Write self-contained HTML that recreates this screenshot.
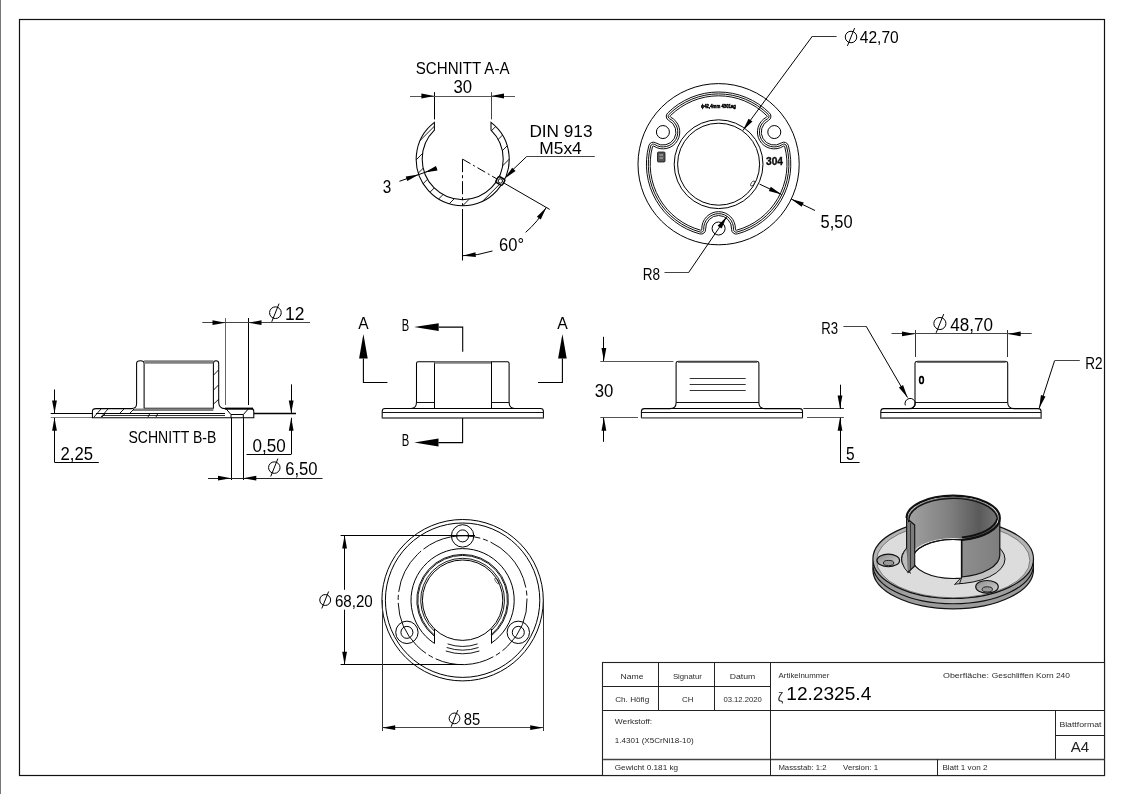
<!DOCTYPE html>
<html><head><meta charset="utf-8"><style>
html,body{margin:0;padding:0;background:#fff;overflow:hidden}
svg{display:block;will-change:transform}
text{font-family:"Liberation Sans",sans-serif}
</style></head><body>
<svg width="1123" height="794" viewBox="0 0 1123 794">
<rect width="1123" height="794" fill="#fff"/>
<line x1="0.5" y1="0" x2="0.5" y2="794" stroke="#777" stroke-width="1" />
<rect x="19.5" y="19.5" width="1085" height="756" fill="none" stroke="#111" stroke-width="1.2"/>
<clipPath id="ringA"><path d="M491,122.3 A46.5,46.5 0 1 1 434.4,122.3 L434.4,130.23 A40.5,40.5 0 1 0 491,130.23 Z"/></clipPath>
<path d="M340.6,220 L460.6,100 M356,220 L476,100 M371.4,220 L491.4,100 M386.8,220 L506.8,100 M402.2,220 L522.2,100 M417.6,220 L537.6,100 M433,220 L553,100 M448.4,220 L568.4,100 M463.8,220 L583.8,100 M479.2,220 L599.2,100 M494.6,220 L614.6,100 M510,220 L630,100" stroke="#000" stroke-width="0.9" clip-path="url(#ringA)"/>
<path d="M491,122.3 A46.5,46.5 0 1 1 434.4,122.3 L434.4,130.23 A40.5,40.5 0 1 0 491,130.23 Z" stroke="#000" stroke-width="1.05" fill="none" />
<line x1="434.5" y1="92.2" x2="434.5" y2="119.4" stroke="#000" stroke-width="1" />
<line x1="491.5" y1="92.2" x2="491.5" y2="119.4" stroke="#444" stroke-width="1" />
<line x1="410" y1="96.5" x2="515" y2="96.5" stroke="#555" stroke-width="1" />
<polygon points="434.4,96 421.4,98.4 421.4,93.6" fill="#000"/>
<polygon points="491,96 504,93.6 504,98.4" fill="#000"/>
<text x="415.8" y="73.7" font-size="16.8" fill="#000" text-anchor="start" textLength="93.7" lengthAdjust="spacingAndGlyphs" >SCHNITT A-A</text>
<text x="453.4" y="93.4" font-size="17.5" fill="#000" text-anchor="start" textLength="18.6" lengthAdjust="spacingAndGlyphs" >30</text>
<line x1="462.5" y1="159.2" x2="462.5" y2="205.5" stroke="#000" stroke-width="1" stroke-dasharray="13,3,3,3"/>
<line x1="462.5" y1="209" x2="462.5" y2="260.5" stroke="#000" stroke-width="1" />
<line x1="462.7" y1="159.2" x2="500.37" y2="180.95" stroke="#000" stroke-width="1" stroke-dasharray="9,3,2,3"/>
<line x1="500.37" y1="180.95" x2="549.74" y2="209.45" stroke="#000" stroke-width="1" />
<path d="M492.52,250.98 A96.5,96.5 0 0 1 462.7,255.7" stroke="#000" stroke-width="1" fill="none" />
<path d="M546.27,207.45 A96.5,96.5 0 0 1 525.63,232.36" stroke="#000" stroke-width="1" fill="none" />
<polygon points="462.7,255.7 475.44,252.18 475.86,256.96" fill="#000"/>
<polygon points="546.27,207.45 540.78,219.48 536.85,216.72" fill="#000"/>
<text x="499" y="251.4" font-size="17.5" fill="#000" text-anchor="start" textLength="25" lengthAdjust="spacingAndGlyphs" >60°</text>
<line x1="399.45" y1="181.29" x2="436.74" y2="168.27" stroke="#000" stroke-width="1" />
<polygon points="418.8,174.53 407.32,181.08 405.74,176.55" fill="#000"/>
<polygon points="424.46,172.55 435.95,166 437.53,170.53" fill="#000"/>
<text x="382.8" y="193.1" font-size="17.5" fill="#000" text-anchor="start" textLength="8.5" lengthAdjust="spacingAndGlyphs" >3</text>
<g transform="translate(500.37,180.95) rotate(30)"><rect x="-3.8" y="-3.4" width="7.6" height="6.8" rx="1.8" fill="#fff" stroke="#000" stroke-width="1.5"/><circle r="2.1" fill="none" stroke="#222" stroke-width="1"/></g>
<line x1="526.5" y1="156.5" x2="594.8" y2="156.5" stroke="#444" stroke-width="1" />
<line x1="526.5" y1="156.7" x2="512" y2="170.5" stroke="#000" stroke-width="1" />
<polygon points="504.7,178.6 512.17,167.69 515.57,171.08" fill="#000"/>
<text x="529.4" y="136.7" font-size="16.8" fill="#000" text-anchor="start" textLength="63.1" lengthAdjust="spacingAndGlyphs" >DIN 913</text>
<text x="539.3" y="153.7" font-size="16.8" fill="#000" text-anchor="start" textLength="42.5" lengthAdjust="spacingAndGlyphs" >M5x4</text>
<circle cx="718.6" cy="164.2" r="80.6" stroke="#000" stroke-width="1" fill="none" />
<circle cx="718.6" cy="164.2" r="44.4" stroke="#000" stroke-width="1" fill="none" />
<circle cx="718.6" cy="164.2" r="41" stroke="#000" stroke-width="1" fill="none" />
<circle cx="662.91" cy="132.05" r="6.5" stroke="#000" stroke-width="1" fill="none" />
<circle cx="774.29" cy="132.05" r="6.5" stroke="#000" stroke-width="1" fill="none" />
<circle cx="718.6" cy="228.5" r="6.5" stroke="#000" stroke-width="1" fill="none" />
<path d="M699.83,233.92 A72.2,72.2 0 0 1 648.84,145.6 A4.6,4.6 0 0 1 655.8,142.93 A13,13 0 1 0 668.78,120.45 A4.6,4.6 0 0 1 667.61,113.09 A72.2,72.2 0 0 1 769.59,113.09 A4.6,4.6 0 0 1 768.42,120.45 A13,13 0 1 0 781.4,142.93 A4.6,4.6 0 0 1 788.36,145.6 A72.2,72.2 0 0 1 737.37,233.92 A4.6,4.6 0 0 1 731.58,229.22 A13,13 0 1 0 705.62,229.22 A4.6,4.6 0 0 1 699.83,233.92 Z" stroke="#000" stroke-width="0.95" fill="none" />
<path d="M700.33,232.08 A70.3,70.3 0 0 1 650.67,146.08 A2.7,2.7 0 0 1 654.76,144.52 A14.9,14.9 0 1 0 669.64,118.75 A2.7,2.7 0 0 1 668.95,114.43 A70.3,70.3 0 0 1 768.25,114.43 A2.7,2.7 0 0 1 767.56,118.75 A14.9,14.9 0 1 0 782.44,144.52 A2.7,2.7 0 0 1 786.53,146.08 A70.3,70.3 0 0 1 736.87,232.08 A2.7,2.7 0 0 1 733.48,229.33 A14.9,14.9 0 1 0 703.72,229.33 A2.7,2.7 0 0 1 700.33,232.08 Z" stroke="#000" stroke-width="0.95" fill="none" />
<path d="M700.68,230.21 A68.4,68.4 0 0 1 652.47,146.71 A0.9,0.9 0 0 1 653.83,146.18 A16.8,16.8 0 1 0 670.61,117.12 A0.9,0.9 0 0 1 670.39,115.68 A68.4,68.4 0 0 1 766.81,115.68 A0.9,0.9 0 0 1 766.59,117.12 A16.8,16.8 0 1 0 783.37,146.18 A0.9,0.9 0 0 1 784.73,146.71 A68.4,68.4 0 0 1 736.52,230.21 A0.9,0.9 0 0 1 735.38,229.3 A16.8,16.8 0 1 0 701.82,229.3 A0.9,0.9 0 0 1 700.68,230.21 Z" stroke="#000" stroke-width="0.95" fill="none" />
<text x="766" y="164.6" font-size="10" fill="#000" text-anchor="start" textLength="17" lengthAdjust="spacingAndGlyphs" font-weight="bold" fill="#555" stroke="#222" stroke-width="0.4">304</text>
<rect x="657.5" y="152" width="7.5" height="10" rx="1" fill="#555" stroke="#111" stroke-width="0.8"/>
<path d="M659.5,155 h3.5 M659.5,158 h3.5" stroke="#ddd" stroke-width="0.8"/>
<text x="701" y="108.2" font-size="5.6" fill="#000" text-anchor="start" textLength="35" lengthAdjust="spacingAndGlyphs" font-weight="bold" stroke="#000" stroke-width="0.5">ϕ42,4mm 4301ag</text>
<ellipse cx="752.6" cy="183.5" rx="1.4" ry="3" transform="rotate(35 752.6 183.5)" fill="none" stroke="#333" stroke-width="0.8"/>
<line x1="812.5" y1="36.5" x2="836.6" y2="36.5" stroke="#333" stroke-width="1" />
<line x1="812.5" y1="36" x2="742.8" y2="130.6" stroke="#000" stroke-width="1" />
<polygon points="742.8,130.6 748.58,118.71 752.44,121.56" fill="#000"/>
<circle cx="851" cy="37" r="5.75" stroke="#000" stroke-width="1.0" fill="none" />
<line x1="847.41" y1="45.93" x2="854.59" y2="28.07" stroke="#000" stroke-width="1.0" />
<text x="859.8" y="42.9" font-size="16.3" fill="#000" text-anchor="start" textLength="38.9" lengthAdjust="spacingAndGlyphs" >42,70</text>
<line x1="759.5" y1="184.1" x2="781.6" y2="194.4" stroke="#000" stroke-width="1" />
<polygon points="781.6,194.4 768.8,191.08 770.83,186.73" fill="#000"/>
<line x1="791" y1="198.9" x2="815" y2="210.5" stroke="#000" stroke-width="1" />
<polygon points="791,198.9 803.75,202.4 801.66,206.72" fill="#000"/>
<text x="820.6" y="228.2" font-size="17.5" fill="#000" text-anchor="start" textLength="32" lengthAdjust="spacingAndGlyphs" >5,50</text>
<line x1="664.5" y1="272.5" x2="688.5" y2="272.5" stroke="#444" stroke-width="1" />
<line x1="688.5" y1="272.7" x2="726.9" y2="216.4" stroke="#000" stroke-width="1" />
<polygon points="726.9,216.4 721.56,228.49 717.59,225.79" fill="#000"/>
<text x="642.8" y="279.8" font-size="16.5" fill="#000" text-anchor="start" textLength="17.3" lengthAdjust="spacingAndGlyphs" >R8</text>
<line x1="50.7" y1="413.5" x2="93" y2="413.5" stroke="#000" stroke-width="1.1" />
<line x1="50.7" y1="417.5" x2="93" y2="417.5" stroke="#808080" stroke-width="1.2" />
<line x1="54.5" y1="389.5" x2="54.5" y2="413.5" stroke="#000" stroke-width="1" />
<polygon points="54.5,413.5 52.1,400.5 56.9,400.5" fill="#000"/>
<line x1="54.5" y1="417.8" x2="54.5" y2="462.3" stroke="#000" stroke-width="1" />
<polygon points="54.5,417.8 56.9,430.8 52.1,430.8" fill="#000"/>
<line x1="54.5" y1="462.5" x2="98.8" y2="462.5" stroke="#000" stroke-width="1" />
<text x="60.5" y="459.5" font-size="17.5" fill="#000" text-anchor="start" textLength="32.5" lengthAdjust="spacingAndGlyphs" >2,25</text>
<text x="128.5" y="443.1" font-size="16.4" fill="#000" text-anchor="start" textLength="87.8" lengthAdjust="spacingAndGlyphs" >SCHNITT B-B</text>
<path d="M96,408.6 L131.5,408.6 Q136.6,408.6 136.6,403.5 L136.6,363.5 Q136.6,360.7 140.4,360.7 Q144.1,360.7 144.1,363.5 L144.1,408.3 L213.4,408.3 L213.4,363.5 Q213.4,360.7 216,360.7 Q218.7,360.7 218.7,363.5 L218.7,402 Q218.7,408.6 225,408.6 L251,408.6 Q253.8,408.6 253.8,411.5 L253.8,417.8 L92.4,417.8 L92.4,411.5 Q92.4,408.6 96,408.6 Z" stroke="#000" stroke-width="1.05" fill="none" />
<line x1="144.1" y1="362" x2="213.4" y2="362" stroke="#808080" stroke-width="3.5" />
<line x1="133" y1="409.8" x2="213.4" y2="409.8" stroke="#808080" stroke-width="2.6" />
<line x1="96" y1="413.5" x2="225" y2="413.5" stroke="#000" stroke-width="1" />
<line x1="103" y1="415.5" x2="225" y2="415.5" stroke="#000" stroke-width="0.8" />
<polyline points="225.9,408.6 231,414.6 231,417.8" stroke="#000" stroke-width="1" fill="none" />
<polyline points="248.6,408.6 243.3,414.6 243.3,417.8" stroke="#000" stroke-width="1" fill="none" />
<line x1="231" y1="414.5" x2="243.3" y2="414.5" stroke="#000" stroke-width="1" />
<line x1="225" y1="408.6" x2="253" y2="408.6" stroke="#000" stroke-width="2" />
<line x1="94" y1="417" x2="101" y2="409" stroke="#000" stroke-width="0.9" />
<line x1="101" y1="417" x2="108" y2="409" stroke="#000" stroke-width="0.9" />
<line x1="120" y1="413" x2="124" y2="409" stroke="#000" stroke-width="0.9" />
<line x1="130" y1="413" x2="134" y2="409" stroke="#000" stroke-width="0.9" />
<line x1="102" y1="417" x2="106" y2="413" stroke="#000" stroke-width="0.9" />
<line x1="148" y1="417" x2="150" y2="413" stroke="#000" stroke-width="0.9" />
<line x1="156" y1="417" x2="158" y2="413" stroke="#000" stroke-width="0.9" />
<line x1="213.6" y1="390" x2="218.5" y2="385" stroke="#000" stroke-width="0.9" />
<line x1="213.6" y1="375" x2="218.5" y2="370" stroke="#000" stroke-width="0.9" />
<line x1="213.6" y1="404" x2="219" y2="399" stroke="#000" stroke-width="0.9" />
<line x1="225.5" y1="318" x2="225.5" y2="405" stroke="#666" stroke-width="1" />
<line x1="248.5" y1="318" x2="248.5" y2="405" stroke="#000" stroke-width="1" />
<line x1="202.3" y1="322.5" x2="310" y2="322.5" stroke="#444" stroke-width="1" />
<polygon points="225.5,322.7 212.5,325.1 212.5,320.3" fill="#000"/>
<polygon points="248.5,322.7 261.5,320.3 261.5,325.1" fill="#000"/>
<circle cx="275.4" cy="312.7" r="5.85" stroke="#000" stroke-width="1.0" fill="none" />
<line x1="271.74" y1="321.79" x2="279.06" y2="303.61" stroke="#000" stroke-width="1.0" />
<text x="285" y="320" font-size="17.5" fill="#000" text-anchor="start" textLength="19.4" lengthAdjust="spacingAndGlyphs" >12</text>
<line x1="253.8" y1="413.5" x2="296" y2="413.5" stroke="#000" stroke-width="1.3" />
<line x1="291.5" y1="384.4" x2="291.5" y2="413.5" stroke="#000" stroke-width="1" />
<polygon points="291.2,413.5 288.8,400.5 293.6,400.5" fill="#000"/>
<line x1="291.5" y1="417.8" x2="291.5" y2="454.3" stroke="#000" stroke-width="1" />
<polygon points="291.2,417.8 293.6,430.8 288.8,430.8" fill="#000"/>
<line x1="246.5" y1="454.5" x2="291.2" y2="454.5" stroke="#000" stroke-width="1" />
<text x="252.6" y="451.6" font-size="17.5" fill="#000" text-anchor="start" textLength="33.2" lengthAdjust="spacingAndGlyphs" >0,50</text>
<line x1="231.5" y1="418" x2="231.5" y2="480" stroke="#000" stroke-width="1" />
<line x1="243.5" y1="418" x2="243.5" y2="480" stroke="#000" stroke-width="1" />
<line x1="208" y1="478.5" x2="322.5" y2="478.5" stroke="#222" stroke-width="1" />
<polygon points="231,478.2 218,480.6 218,475.8" fill="#000"/>
<polygon points="243.3,478.2 256.3,475.8 256.3,480.6" fill="#000"/>
<circle cx="274.3" cy="467.6" r="5.75" stroke="#000" stroke-width="1.0" fill="none" />
<line x1="270.71" y1="476.53" x2="277.89" y2="458.67" stroke="#000" stroke-width="1.0" />
<text x="285.2" y="474.6" font-size="17.5" fill="#000" text-anchor="start" textLength="32.4" lengthAdjust="spacingAndGlyphs" >6,50</text>
<path d="M385,408.4 L411,408.4 Q416.5,408.4 416.5,402 L416.5,363.5 Q416.5,361.8 418,361.8 L507.5,361.8 Q509.1,361.8 509.1,363.5 L509.1,402 Q509.1,408.4 514.6,408.4 L540.5,408.4 Q543.4,408.4 543.4,411.3 L543.4,418 L382.2,418 L382.2,411.3 Q382.2,408.4 385,408.4 Z" stroke="#000" stroke-width="1.05" fill="none" />
<line x1="434.5" y1="362" x2="434.5" y2="408.4" stroke="#000" stroke-width="1" />
<line x1="491.5" y1="362" x2="491.5" y2="408.4" stroke="#000" stroke-width="1" />
<line x1="434.4" y1="362.6" x2="491" y2="362.6" stroke="#808080" stroke-width="2.5" />
<line x1="416.5" y1="402.5" x2="434.4" y2="402.5" stroke="#111" stroke-width="1" />
<line x1="491" y1="402.5" x2="509.1" y2="402.5" stroke="#111" stroke-width="1" />
<line x1="385" y1="408.5" x2="540.5" y2="408.5" stroke="#000" stroke-width="1" />
<line x1="382.2" y1="412.5" x2="543.4" y2="412.5" stroke="#111" stroke-width="1" />
<line x1="382.5" y1="417.9" x2="543.2" y2="417.9" stroke="#777" stroke-width="1.6" />
<polyline points="387.4,382.5 363.4,382.5 363.4,358.6" stroke="#000" stroke-width="1.1" fill="none" />
<polygon points="363.4,334 359.1,358.6 367.7,358.6" fill="#000"/>
<polyline points="538,382.5 562.4,382.5 562.4,358.6" stroke="#000" stroke-width="1.1" fill="none" />
<polygon points="562.4,334 558.1,358.6 566.7,358.6" fill="#000"/>
<text x="358.3" y="328.9" font-size="16" fill="#000" text-anchor="start" textLength="10.4" lengthAdjust="spacingAndGlyphs" >A</text>
<text x="557.2" y="328.9" font-size="16" fill="#000" text-anchor="start" textLength="10.5" lengthAdjust="spacingAndGlyphs" >A</text>
<polyline points="438.7,327.1 462.7,327.1 462.7,351.7" stroke="#000" stroke-width="1.1" fill="none" />
<polygon points="414.1,327.1 438.7,323.3 438.7,331.1" fill="#000"/>
<polyline points="438.5,442.6 462.6,442.6 462.6,418" stroke="#000" stroke-width="1.1" fill="none" />
<polygon points="414.3,442.6 438.5,438.6 438.5,446.6" fill="#000"/>
<text x="401.8" y="331" font-size="16" fill="#000" text-anchor="start" textLength="7.4" lengthAdjust="spacingAndGlyphs" >B</text>
<text x="401.8" y="446.3" font-size="16" fill="#000" text-anchor="start" textLength="7.5" lengthAdjust="spacingAndGlyphs" >B</text>
<path d="M644.4,408.6 L670,408.6 Q676.1,408.6 676.1,402.8 L676.1,363.3 Q676.1,361.4 678,361.4 L757,361.4 Q758.9,361.4 758.9,363.3 L758.9,402.8 Q758.9,408.6 765,408.6 L799.6,408.6 Q802.5,408.6 802.5,411.5 L802.5,417.7 L641.4,417.7 L641.4,411.5 Q641.4,408.6 644.4,408.6 Z" stroke="#000" stroke-width="1.05" fill="none" />
<line x1="676.1" y1="402.5" x2="758.9" y2="402.5" stroke="#111" stroke-width="1" />
<line x1="644.4" y1="408.5" x2="799.6" y2="408.5" stroke="#000" stroke-width="1" />
<line x1="641.4" y1="412.5" x2="802.5" y2="412.5" stroke="#111" stroke-width="1" />
<line x1="678" y1="361.7" x2="757" y2="361.7" stroke="#444" stroke-width="2" />
<line x1="641.6" y1="417.8" x2="802.3" y2="417.8" stroke="#777" stroke-width="1.6" />
<line x1="689.7" y1="378.5" x2="745.7" y2="378.5" stroke="#333" stroke-width="1" />
<line x1="689.7" y1="384.5" x2="745.7" y2="384.5" stroke="#333" stroke-width="1" />
<line x1="689.7" y1="390.5" x2="745.7" y2="390.5" stroke="#333" stroke-width="1" />
<line x1="600.3" y1="361.5" x2="673.4" y2="361.5" stroke="#555" stroke-width="1" />
<line x1="600.3" y1="417.5" x2="638" y2="417.5" stroke="#555" stroke-width="1" />
<line x1="603.5" y1="336.8" x2="603.5" y2="361" stroke="#000" stroke-width="1" />
<polygon points="603.9,361 601.5,348 606.3,348" fill="#000"/>
<line x1="603.5" y1="417.7" x2="603.5" y2="441.8" stroke="#000" stroke-width="1" />
<polygon points="603.9,417.7 606.3,430.7 601.5,430.7" fill="#000"/>
<text x="594.8" y="397.2" font-size="17.5" fill="#000" text-anchor="start" textLength="18.6" lengthAdjust="spacingAndGlyphs" >30</text>
<line x1="803.3" y1="408.5" x2="843.9" y2="408.5" stroke="#333" stroke-width="1" />
<line x1="807" y1="417.5" x2="843.9" y2="417.5" stroke="#555" stroke-width="1" />
<line x1="840.5" y1="384.7" x2="840.5" y2="408.6" stroke="#000" stroke-width="1" />
<polygon points="840,408.6 837.6,395.6 842.4,395.6" fill="#000"/>
<line x1="840.5" y1="417.7" x2="840.5" y2="462.1" stroke="#000" stroke-width="1" />
<polygon points="840,417.7 842.4,430.7 837.6,430.7" fill="#000"/>
<line x1="840" y1="462.5" x2="859.6" y2="462.5" stroke="#000" stroke-width="1" />
<text x="845.9" y="460.3" font-size="17.5" fill="#000" text-anchor="start" textLength="8.6" lengthAdjust="spacingAndGlyphs" >5</text>
<path d="M883.7,408.6 L909,408.6 Q915,408.6 915,402.3 L915,363.3 Q915,361.4 917,361.4 L1005.7,361.4 Q1007.7,361.4 1007.7,363.3 L1007.7,402.3 Q1007.7,408.6 1014,408.6 L1038.2,408.6 Q1041.1,408.6 1041.1,411.5 L1041.1,418.1 L880.8,418.1 L880.8,411.5 Q880.8,408.6 883.7,408.6 Z" stroke="#000" stroke-width="1.05" fill="none" />
<line x1="915" y1="402.5" x2="1007.7" y2="402.5" stroke="#111" stroke-width="1" />
<line x1="883.7" y1="408.5" x2="1038.2" y2="408.5" stroke="#000" stroke-width="1" />
<line x1="880.8" y1="412.5" x2="1041.1" y2="412.5" stroke="#111" stroke-width="1" />
<line x1="917" y1="361.7" x2="1005.7" y2="361.7" stroke="#444" stroke-width="2" />
<line x1="881" y1="418" x2="1040.9" y2="418" stroke="#777" stroke-width="1.6" />
<path d="M905.31,405.38 A5.2,5.2 0 1 1 909.75,408.78" stroke="#000" stroke-width="1" fill="none" />
<ellipse cx="921.5" cy="380" rx="1.9" ry="3.4" fill="#fff" stroke="#000" stroke-width="1.6"/>
<line x1="915.5" y1="330" x2="915.5" y2="357" stroke="#333" stroke-width="1" />
<line x1="1007.5" y1="330" x2="1007.5" y2="357" stroke="#333" stroke-width="1" />
<line x1="891.5" y1="333.5" x2="1031.7" y2="333.5" stroke="#444" stroke-width="1" />
<polygon points="915,333.9 902,336.3 902,331.5" fill="#000"/>
<polygon points="1007.7,333.9 1020.7,331.5 1020.7,336.3" fill="#000"/>
<circle cx="939.9" cy="323.5" r="6.05" stroke="#000" stroke-width="1.0" fill="none" />
<line x1="936.12" y1="332.9" x2="943.68" y2="314.1" stroke="#000" stroke-width="1.0" />
<text x="950.3" y="330.7" font-size="17.5" fill="#000" text-anchor="start" textLength="42.7" lengthAdjust="spacingAndGlyphs" >48,70</text>
<line x1="843.4" y1="326.5" x2="866.1" y2="326.5" stroke="#444" stroke-width="1" />
<line x1="866.1" y1="326.2" x2="907.5" y2="397.5" stroke="#000" stroke-width="1" />
<polygon points="907.5,397.5 898.9,387.46 903.05,385.05" fill="#000"/>
<text x="821.2" y="334.1" font-size="16.5" fill="#000" text-anchor="start" textLength="16.8" lengthAdjust="spacingAndGlyphs" >R3</text>
<line x1="1054.5" y1="360.5" x2="1079.8" y2="360.5" stroke="#444" stroke-width="1" />
<line x1="1054.5" y1="360.9" x2="1039.2" y2="408.2" stroke="#000" stroke-width="1" />
<polygon points="1039.2,408.2 1040.92,395.09 1045.48,396.57" fill="#000"/>
<text x="1085.2" y="368.8" font-size="16.5" fill="#000" text-anchor="start" textLength="17.3" lengthAdjust="spacingAndGlyphs" >R2</text>
<circle cx="462.6" cy="600.2" r="80.7" stroke="#000" stroke-width="1" fill="none" />
<circle cx="462.6" cy="600.2" r="77.2" stroke="#000" stroke-width="1" fill="none" />
<path d="M417.53,554.34 A64.3,64.3 0 1 1 507.67,646.06 A64.3,64.3 0 1 1 417.53,554.34" stroke="#000" stroke-width="0.95" fill="none" stroke-dasharray="5,3,59.7,3"/>
<circle cx="462.6" cy="600.2" r="40.2" stroke="#000" stroke-width="1" fill="none" />
<path d="M434.4,643.41 A51.6,51.6 0 1 1 491,643.28" stroke="#000" stroke-width="1" fill="none" />
<path d="M434.4,636.29 A45.8,45.8 0 1 1 491,636.13" stroke="#000" stroke-width="0.9" fill="none" />
<path d="M434.4,635.01 A44.8,44.8 0 1 1 491,634.85" stroke="#000" stroke-width="0.9" fill="none" />
<path d="M434.4,631.19 A41.9,41.9 0 1 1 491,631.01" stroke="#000" stroke-width="0.9" fill="none" />
<line x1="434.5" y1="629" x2="434.5" y2="643.4" stroke="#000" stroke-width="1" />
<line x1="491.5" y1="629" x2="491.5" y2="643.4" stroke="#000" stroke-width="1" />
<path d="M477.6,643.9 A46.2,46.2 0 0 1 447.6,643.9" stroke="#000" stroke-width="0.9" fill="none" />
<path d="M478.53,647.49 A49.9,49.9 0 0 1 446.68,647.49" stroke="#000" stroke-width="0.9" fill="none" />
<path d="M479.43,650.99 A53.5,53.5 0 0 1 445.78,650.99" stroke="#000" stroke-width="0.9" fill="none" />
<ellipse cx="497" cy="581" rx="1.3" ry="3.5" transform="rotate(-35 497 581)" fill="none" stroke="#444" stroke-width="0.8"/>
<circle cx="462.6" cy="535.9" r="11.2" stroke="#000" stroke-width="1" fill="none" />
<circle cx="462.6" cy="535.9" r="6" stroke="#000" stroke-width="1" fill="none" />
<circle cx="406.91" cy="632.35" r="11.2" stroke="#000" stroke-width="1" fill="none" />
<circle cx="406.91" cy="632.35" r="6" stroke="#000" stroke-width="1" fill="none" />
<circle cx="518.29" cy="632.35" r="11.2" stroke="#000" stroke-width="1" fill="none" />
<circle cx="518.29" cy="632.35" r="6" stroke="#000" stroke-width="1" fill="none" />
<line x1="340.6" y1="535.5" x2="475" y2="535.5" stroke="#000" stroke-width="1" />
<line x1="340.6" y1="664.5" x2="462.6" y2="664.5" stroke="#000" stroke-width="1" />
<line x1="344.5" y1="535.4" x2="344.5" y2="589.8" stroke="#000" stroke-width="1" />
<line x1="344.5" y1="609.7" x2="344.5" y2="664.8" stroke="#000" stroke-width="1" />
<polygon points="344.6,535.4 347,548.4 342.2,548.4" fill="#000"/>
<polygon points="344.6,664.8 342.2,651.8 347,651.8" fill="#000"/>
<circle cx="325.2" cy="600" r="5.45" stroke="#000" stroke-width="1.0" fill="none" />
<line x1="321.79" y1="608.47" x2="328.61" y2="591.53" stroke="#000" stroke-width="1.0" />
<text x="334.9" y="606.8" font-size="16.3" fill="#000" text-anchor="start" textLength="37.9" lengthAdjust="spacingAndGlyphs" >68,20</text>
<line x1="382.5" y1="600" x2="382.5" y2="731" stroke="#333" stroke-width="1" />
<line x1="543.5" y1="600" x2="543.5" y2="731" stroke="#333" stroke-width="1" />
<line x1="382.2" y1="727.5" x2="543.2" y2="727.5" stroke="#444" stroke-width="1" />
<polygon points="382.2,727.7 395.2,725.3 395.2,730.1" fill="#000"/>
<polygon points="543.2,727.7 530.2,730.1 530.2,725.3" fill="#000"/>
<circle cx="454.5" cy="718.4" r="5.35" stroke="#000" stroke-width="1.0" fill="none" />
<line x1="451.16" y1="726.71" x2="457.84" y2="710.09" stroke="#000" stroke-width="1.0" />
<text x="463.7" y="725" font-size="16.5" fill="#000" text-anchor="start" textLength="16.5" lengthAdjust="spacingAndGlyphs" >85</text>
<defs>
<linearGradient id="gin" x1="0" x2="1" y1="0" y2="0"><stop offset="0" stop-color="#a0a0a0"/><stop offset="0.45" stop-color="#808080"/><stop offset="0.8" stop-color="#5a5a5a"/><stop offset="1" stop-color="#747474"/></linearGradient>
<linearGradient id="gout" x1="0" x2="1" y1="0" y2="0"><stop offset="0" stop-color="#8e8e8e"/><stop offset="1" stop-color="#7e7e7e"/></linearGradient>
<linearGradient id="gband" x1="0" x2="1" y1="0" y2="0"><stop offset="0" stop-color="#909090"/><stop offset="0.5" stop-color="#b8b8b8"/><stop offset="1" stop-color="#909090"/></linearGradient>
<linearGradient id="gcs" x1="0" x2="1" y1="0" y2="1"><stop offset="0" stop-color="#8a8a8a"/><stop offset="1" stop-color="#d8d8d8"/></linearGradient>
</defs>
<ellipse cx="953.2" cy="569.4" rx="80.3" ry="39.4" fill="#9c9c9c" stroke="#111" stroke-width="1.2" />
<ellipse cx="953.2" cy="564.4" rx="80.3" ry="39.4" fill="url(#gband)" stroke="#111" stroke-width="1.1" />
<ellipse cx="953.2" cy="559" rx="80.3" ry="39.4" fill="#b4b4b4" stroke="#111" stroke-width="1.2" />
<ellipse cx="953.2" cy="560.4" rx="76.7" ry="37.4" fill="#dcdcdc" stroke="#555" stroke-width="0.7" />
<ellipse cx="888.3" cy="560.4" rx="11.3" ry="6.3" fill="url(#gcs)" stroke="#111" stroke-width="1.1" />
<ellipse cx="888.6" cy="563" rx="5.2" ry="2.6" fill="#9a9a9a" stroke="#111" stroke-width="0.9" />
<ellipse cx="987" cy="586.8" rx="11.3" ry="6.3" fill="url(#gcs)" stroke="#111" stroke-width="1.1" />
<ellipse cx="987.3" cy="589.4" rx="5.2" ry="2.6" fill="#9a9a9a" stroke="#111" stroke-width="0.9" />
<clipPath id="frc"><rect x="860" y="480" width="51" height="140"/><rect x="959" y="480" width="90" height="140"/></clipPath>
<ellipse cx="953.2" cy="559" rx="51.8" ry="24.9" fill="#c2c2c2" stroke="#111" stroke-width="1" clip-path="url(#frc)"/>
<clipPath id="hc"><rect x="860" y="480" width="101.8" height="140"/></clipPath>
<ellipse cx="953.2" cy="559" rx="40.5" ry="19.5" fill="#fff" stroke="#111" stroke-width="1.1" clip-path="url(#hc)"/>
<path d="M909.8,518 A43.4,20.9 0 0 1 996.6,518 L996.6,559 A43.4,20.9 0 0 0 909.8,559 Z" fill="url(#gin)" stroke="none"/>
<path d="M912.7,559 A40.5,19.5 0 0 1 993.7,559" fill="none" stroke="#111" stroke-width="1.2"/>
<path d="M961.8,540.02 L961.8,577.02 A46.6,22.4 0 0 0 999.8,555 L999.8,518 A46.6,22.4 0 0 1 961.8,540.02 Z" fill="url(#gout)" stroke="#111" stroke-width="1.2"/>
<path d="M961.8,577.02 L954.5,584.5 Q957,583.6 959.5,583.8 L961.8,577.02" fill="#bdbdbd" stroke="#111" stroke-width="0.9"/>
<path d="M906.6,518 L906.6,562 Q906.8,568 908,572.4 L914.7,566 L914.7,525 Q911,522 906.6,518 Z" fill="#7c7c7c" stroke="#111" stroke-width="1.1"/>
<line x1="910.5" y1="523" x2="910.5" y2="569" stroke="#222" stroke-width="0.8" />
<path d="M906.6,548 Q900.5,556 902,562 Q904,569 908,572.4" fill="#bdbdbd" stroke="#111" stroke-width="0.9"/>
<path d="M906.6,518 A46.6,22.4 0 0 1 999.8,518 A46.6,22.4 0 0 1 961.8,540.02" fill="none" stroke="#111" stroke-width="2.2"/>
<path d="M909,522 A44.199999999999996,21.7 0 0 1 997.4,518 A44.199999999999996,21.7 0 0 1 961.8,537.42" fill="none" stroke="#111" stroke-width="1.8"/>
<path d="M908.2,520 A45.0,21.599999999999998 0 0 1 998.2,518" fill="none" stroke="#666" stroke-width="0.8"/>
<line x1="961.5" y1="540.02" x2="961.5" y2="577.02" stroke="#111" stroke-width="1.3" />
<rect x="602.5" y="662.5" width="502" height="113" fill="#fff" stroke="#222" stroke-width="1.1"/>
<line x1="603.1" y1="686.5" x2="770.3" y2="686.5" stroke="#222" stroke-width="1" />
<line x1="603.1" y1="710.5" x2="1104.5" y2="710.5" stroke="#222" stroke-width="1" />
<line x1="603.1" y1="759.5" x2="1104.5" y2="759.5" stroke="#444" stroke-width="1.3" />
<line x1="658.5" y1="662.4" x2="658.5" y2="710.6" stroke="#222" stroke-width="1" />
<line x1="714.5" y1="662.4" x2="714.5" y2="710.6" stroke="#222" stroke-width="1" />
<line x1="770.5" y1="662.4" x2="770.5" y2="775" stroke="#222" stroke-width="1" />
<line x1="1055.5" y1="710.6" x2="1055.5" y2="759" stroke="#222" stroke-width="1" />
<line x1="1055.1" y1="735.5" x2="1104.5" y2="735.5" stroke="#222" stroke-width="1" />
<line x1="937.5" y1="759" x2="937.5" y2="775" stroke="#222" stroke-width="1" />
<text x="620.5" y="678.8" font-size="8" fill="#2a2a2a" text-anchor="start" textLength="23" lengthAdjust="spacingAndGlyphs" >Name</text>
<text x="672.9" y="678.8" font-size="8" fill="#2a2a2a" text-anchor="start" textLength="28.9" lengthAdjust="spacingAndGlyphs" >Signatur</text>
<text x="729.8" y="678.8" font-size="8" fill="#2a2a2a" text-anchor="start" textLength="25.5" lengthAdjust="spacingAndGlyphs" >Datum</text>
<text x="615.2" y="702.2" font-size="8" fill="#2a2a2a" text-anchor="start" textLength="34" lengthAdjust="spacingAndGlyphs" >Ch. Höfig</text>
<text x="682" y="702.2" font-size="8" fill="#2a2a2a" text-anchor="start" textLength="11.5" lengthAdjust="spacingAndGlyphs" >CH</text>
<text x="723.4" y="702.2" font-size="8" fill="#2a2a2a" text-anchor="start" textLength="38.5" lengthAdjust="spacingAndGlyphs" >03.12.2020</text>
<text x="614.7" y="724.1" font-size="8" fill="#2a2a2a" text-anchor="start" textLength="37.5" lengthAdjust="spacingAndGlyphs" >Werkstoff:</text>
<text x="614.7" y="742.6" font-size="8" fill="#2a2a2a" text-anchor="start" textLength="79" lengthAdjust="spacingAndGlyphs" >1.4301 (X5CrNi18-10)</text>
<text x="614.7" y="770.3" font-size="8" fill="#2a2a2a" text-anchor="start" textLength="63.5" lengthAdjust="spacingAndGlyphs" >Gewicht 0.181 kg</text>
<text x="778.6" y="677.8" font-size="8" fill="#2a2a2a" text-anchor="start" textLength="50.7" lengthAdjust="spacingAndGlyphs" >Artikelnummer</text>
<text x="943" y="677.9" font-size="8" fill="#2a2a2a" text-anchor="start" textLength="46" lengthAdjust="spacingAndGlyphs" >Oberfläche:</text>
<text x="991.8" y="677.9" font-size="8" fill="#2a2a2a" text-anchor="start" textLength="78.1" lengthAdjust="spacingAndGlyphs" >Geschliffen Korn 240</text>
<text x="777.8" y="700.5" font-size="12" fill="#222" text-anchor="start" textLength="5.4" lengthAdjust="spacingAndGlyphs" >ζ</text>
<text x="786.3" y="699.8" font-size="19.1" fill="#000" text-anchor="start" textLength="85" lengthAdjust="spacingAndGlyphs" >12.2325.4</text>
<text x="1059.4" y="727.4" font-size="8" fill="#2a2a2a" text-anchor="start" textLength="42" lengthAdjust="spacingAndGlyphs" >Blattformat</text>
<text x="1070.7" y="751.7" font-size="15" fill="#222" text-anchor="start" textLength="18.5" lengthAdjust="spacingAndGlyphs" >A4</text>
<text x="778.4" y="770.2" font-size="8" fill="#2a2a2a" text-anchor="start" textLength="48.2" lengthAdjust="spacingAndGlyphs" >Massstab: 1:2</text>
<text x="843.1" y="770.2" font-size="8" fill="#2a2a2a" text-anchor="start" textLength="35" lengthAdjust="spacingAndGlyphs" >Version: 1</text>
<text x="942.4" y="770.2" font-size="8" fill="#2a2a2a" text-anchor="start" textLength="45" lengthAdjust="spacingAndGlyphs" >Blatt 1 von 2</text>
</svg></body></html>
